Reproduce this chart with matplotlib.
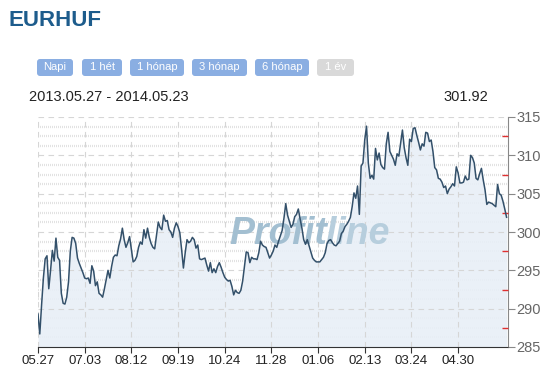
import numpy as np
import matplotlib.pyplot as plt
from matplotlib.patches import FancyBboxPatch
from matplotlib.transforms import IdentityTransform

plt.rcParams['font.family'] = ['Liberation Sans', 'DejaVu Sans']

symbol = "EURHUF"
date_range = "2013.05.27 - 2014.05.23"
last_price = "301.92"
buttons = ["Napi", "1 hét", "1 hónap", "3 hónap", "6 hónap", "1 év"]
xtick_labels = ["05.27", "07.03", "08.12", "09.19", "10.24",
                "11.28", "01.06", "02.13", "03.24", "04.30"]

# daily closes
price = [
    289.3, 286.7, 290.5, 294.0, 296.5, 296.9, 292.6, 295.0, 297.6, 296.2,
    299.2, 296.7, 296.3, 292.0, 290.7, 290.6, 291.5, 293.5, 297.5, 299.3,
    299.2, 298.5, 296.6, 295.9, 295.3, 294.7, 294.0, 293.9, 294.0, 293.3,
    295.6, 294.9, 293.0, 293.5, 292.0, 291.8, 291.5, 292.6, 293.8, 295.0,
    294.0, 295.5, 296.7, 297.0, 296.9, 298.2, 299.1, 300.5, 299.0, 298.0,
    298.6, 299.4, 297.8, 296.1, 296.3, 296.8, 298.0, 298.7, 298.4, 300.3,
    299.2, 300.5, 299.3, 298.5, 298.0, 297.8, 299.5, 301.3, 300.6, 300.3,
    302.2, 301.4, 301.5, 300.3, 300.0, 299.3, 300.5, 301.2, 300.7, 299.9,
    297.7, 295.3, 297.3, 299.0, 298.6, 298.8, 299.3, 299.0, 297.9, 298.3,
    296.5, 296.4, 296.5, 296.6, 295.7, 294.9, 296.0, 294.7, 295.2, 294.7,
    295.5, 296.0, 295.4, 294.7, 294.1, 293.8, 293.6, 293.7, 292.9, 291.8,
    292.4, 292.1, 292.0, 292.4, 293.6, 295.5, 297.4, 297.3, 296.0, 296.7,
    296.5, 296.5, 296.4, 297.3, 298.8, 298.3, 298.1, 298.0, 297.3, 296.6,
    297.0, 297.5, 298.3, 298.0, 298.8, 299.5, 300.2, 301.8, 303.7, 302.2,
    301.4, 300.6, 301.0, 302.0, 302.3, 303.0, 301.7, 300.5, 299.0, 298.4,
    299.0, 298.2, 297.4, 296.6, 296.3, 296.1, 296.1, 296.1, 296.4, 296.7,
    297.3, 298.5, 298.9, 299.0, 298.6, 298.3, 298.2, 298.5, 298.8, 299.8,
    300.1, 300.7, 301.0, 301.4, 301.9, 303.3, 305.1, 304.4, 306.0, 302.3,
    308.6, 309.0, 312.0, 313.8, 309.0, 307.0, 307.4, 306.9, 310.9, 309.4,
    310.3, 308.8, 308.4, 308.2, 311.5, 313.0, 310.5, 310.0, 309.5, 308.7,
    310.2, 309.9, 311.6, 313.3, 311.0, 309.7, 308.7, 312.1, 311.8, 313.5,
    313.6, 312.6, 311.7, 310.7, 311.5, 311.2, 313.0, 312.9, 311.8, 312.0,
    310.5, 308.4, 308.1, 307.0, 306.9, 306.5, 305.8, 306.0, 305.0, 305.6,
    305.9, 306.3, 306.0, 308.5, 307.7, 306.4, 306.4, 306.5, 307.3, 306.8,
    306.9, 310.0, 309.7, 309.0, 307.0, 306.8, 307.6, 308.3, 306.8, 305.5,
    303.6, 303.9, 303.8, 303.7, 303.5, 303.3, 306.2, 305.0, 304.8, 304.0,
    303.0, 301.92,
]
days = np.arange(len(price))

W, H = 544, 373
fig = plt.figure(figsize=(W / 100, H / 100), dpi=100)

# header
fig.text(8 / W, 1 - 21 / H, symbol, fontsize=16, fontweight='bold',
         color='#1d5c8c', va='center')

btn_left = [37, 82, 130, 192, 255, 317]
btn_width = [36, 40, 54, 55, 54, 37]
for i, name in enumerate(buttons):
    active = i < len(buttons) - 1
    box = FancyBboxPatch((btn_left[i], H - 76), btn_width[i], 17,
                         boxstyle="round,pad=0,rounding_size=3",
                         transform=IdentityTransform(),
                         facecolor='#8aaee2' if active else '#d9d9d9',
                         edgecolor='none')
    fig.add_artist(box)
    fig.text((btn_left[i] + btn_width[i] / 2) / W, 1 - 67.5 / H, name,
             fontsize=8, color='white', ha='center', va='center')

fig.text(29 / W, 1 - 97 / H, date_range, fontsize=10.5, color='#222222',
         va='center')
fig.text(488 / W, 1 - 97 / H, last_price, fontsize=10.5, color='#222222',
         va='center', ha='right')

# chart
ax = fig.add_axes([38 / W, 1 - 347 / H, 470 / W, 230 / H])
ax.set_xlim(0, 261.8)
ax.set_ylim(285, 315)
ax.set_axisbelow(False)

for v in np.arange(285, 315, 1.25):
    if v % 5 != 0:
        ax.axhline(v, color='#e2e2e2', lw=1.6, dashes=(0.45, 0.45), zorder=1.5)
for v in range(290, 316, 5):
    ax.axhline(v, color='#d6d6d6', lw=0.8, dashes=(5, 4), zorder=2.3)
tick_pos = np.arange(len(xtick_labels)) * 26
for p in tick_pos:
    ax.axvline(p, color='#d6d6d6', lw=0.8, dashes=(5, 4), zorder=2.3)

ax.fill_between(days, price, 285, color='#e8eff7', alpha=0.88, lw=0, zorder=2)
ax.text(0.615, 0.49, "Profit", transform=ax.transAxes, fontsize=27,
        fontweight='bold', fontstyle='italic', color='#a3bfd1',
        ha='right', va='center', zorder=2.4)
ax.text(0.612, 0.49, "line", transform=ax.transAxes, fontsize=27,
        fontweight='bold', fontstyle='italic', color='#b7cedd',
        ha='left', va='center', zorder=2.4)
ax.plot(days, price, color='#33506a', lw=1.1, zorder=4)

ax.yaxis.tick_right()
ax.set_yticks(range(285, 316, 5))
ax.set_yticks(np.arange(287.5, 315, 5), minor=True)
ax.tick_params(axis='y', which='major', direction='out', length=5,
               color='#888888', labelcolor='#666666', labelsize=10.5, pad=1)
ax.tick_params(axis='y', which='minor', direction='in', length=4,
               color='#e03030', width=1)
ax.set_xticks(tick_pos, xtick_labels)
ax.tick_params(axis='x', direction='out', length=4, color='#333333',
               labelcolor='#222222', labelsize=9.5, pad=2)

for s in ['top', 'left']:
    ax.spines[s].set_visible(False)
ax.spines['right'].set_color('#888888')
ax.spines['bottom'].set_color('#333333')
ax.patch.set_alpha(0)

fig.savefig('out.png', dpi=100)
